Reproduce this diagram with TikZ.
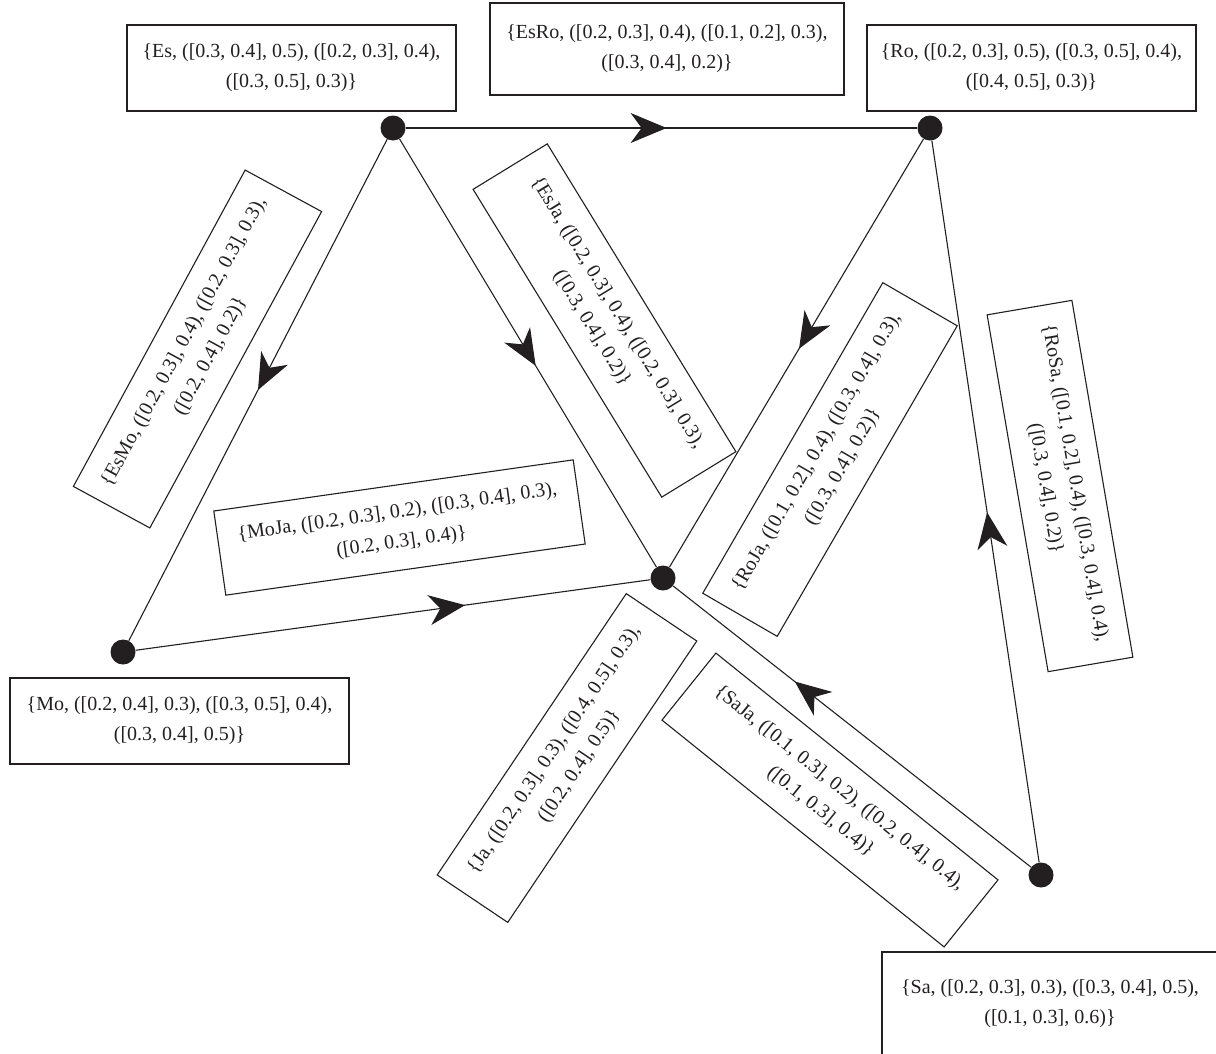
\documentclass[tikz,border=0pt]{standalone}
\usepackage{fontspec}
\setmainfont{Liberation Serif}
\usetikzlibrary{arrows.meta,decorations.markings}
\definecolor{ink}{HTML}{231F20}
\begin{document}
\begin{tikzpicture}[x=1pt,y=-1pt,
  dot/.style={circle,fill=ink,inner sep=0pt,minimum size=25pt},
  lab/.style={draw=ink,line width=1.1pt,inner sep=0pt,align=center,text=ink,
    font=\fontsize{20}{30}\selectfont},
  edge/.style={color=ink,line width=1.1pt,postaction={decorate}},
  midarrow/.style={decoration={markings,mark=at position #1 with
    {\arrow{Stealth[length=36pt,width=30pt,inset=11pt]}}}}
]
\useasboundingbox (0,0) rectangle (1216,1053);

% vertices
\node[dot] (es) at (393,128) {};
\node[dot] (ro) at (930,128) {};
\node[dot] (mo) at (123,652) {};
\node[dot] (ja) at (663,578) {};
\node[dot] (sa) at (1041,875) {};

% edges
\draw[edge,midarrow=0.51] (es) -- (ro);
\draw[edge,midarrow=0.5] (es) -- (mo);
\draw[edge,midarrow=0.53] (es) -- (ja);
\draw[edge,midarrow=0.49] (ro) -- (ja);
\draw[edge,midarrow=0.64] (mo) -- (ja);
\draw[edge,midarrow=0.66] (sa) -- (ja);
\draw[edge,midarrow=0.485] (sa) -- (ro);

% vertex labels
\node[lab,minimum width=329pt,minimum height=86pt] (esl) at (291.5,68)
  {\{Es, ([0.3, 0.4], 0.5), ([0.2, 0.3], 0.4),\\([0.3, 0.5], 0.3)\}};
\node[lab,minimum width=329pt,minimum height=86pt] (rol) at (1031.5,68)
  {\{Ro, ([0.2, 0.3], 0.5), ([0.3, 0.5], 0.4),\\([0.4, 0.5], 0.3)\}};
\node[lab,minimum width=339pt,minimum height=86pt] (mol) at (179.5,721)
  {\{Mo, ([0.2, 0.4], 0.3), ([0.3, 0.5], 0.4),\\([0.3, 0.4], 0.5)\}};
\node[lab,minimum width=336pt,minimum height=103pt] (sal) at (1050,1003.5)
  {\{Sa, ([0.2, 0.3], 0.3), ([0.3, 0.4], 0.5),\\([0.1, 0.3], 0.6)\}};
\node[lab,rotate=56.1,minimum width=339pt,minimum height=85pt] (jal) at (567,758)
  {\{Ja, ([0.2, 0.3], 0.3), ([0.4, 0.5], 0.3),\\([0.2, 0.4], 0.5)\}};

% edge labels
\node[lab,minimum width=354pt,minimum height=92pt] (esrol) at (667,49)
  {\{EsRo, ([0.2, 0.3], 0.4), ([0.1, 0.2], 0.3),\\([0.3, 0.4], 0.2)\}};
\node[lab,rotate=61.5,minimum width=360pt,minimum height=87pt] (esmol) at (197.5,349)
  {\{EsMo, ([0.2, 0.3], 0.4), ([0.2, 0.3], 0.3),\\([0.2, 0.4], 0.2)\}};
\node[lab,rotate=-58.5,minimum width=361pt,minimum height=87pt] (esjal) at (604.5,320.5)
  {\{EsJa, ([0.2, 0.3], 0.4), ([0.2, 0.3], 0.3),\\([0.3, 0.4], 0.2)\}};
\node[lab,rotate=59.9,minimum width=359pt,minimum height=86pt] (rojal) at (830,459.5)
  {\{RoJa, ([0.1, 0.2], 0.4), ([0.3, 0.4], 0.3),\\([0.3, 0.4], 0.2)\}};
\node[lab,rotate=-80.3,minimum width=362pt,minimum height=86pt] (rosal) at (1060,486)
  {\{RoSa, ([0.1, 0.2], 0.4), ([0.3, 0.4], 0.4),\\([0.3, 0.4], 0.2)\}};
\node[lab,rotate=8.1,minimum width=363pt,minimum height=85pt] (mojal) at (399.5,527.5)
  {\{MoJa, ([0.2, 0.3], 0.2), ([0.3, 0.4], 0.3),\\([0.2, 0.3], 0.4)\}};
\node[lab,rotate=-38.8,minimum width=362pt,minimum height=86pt] (sajal) at (830,800)
  {\{SaJa, ([0.1, 0.3], 0.2), ([0.2, 0.4], 0.4),\\([0.1, 0.3], 0.4)\}};
\end{tikzpicture}
\end{document}
